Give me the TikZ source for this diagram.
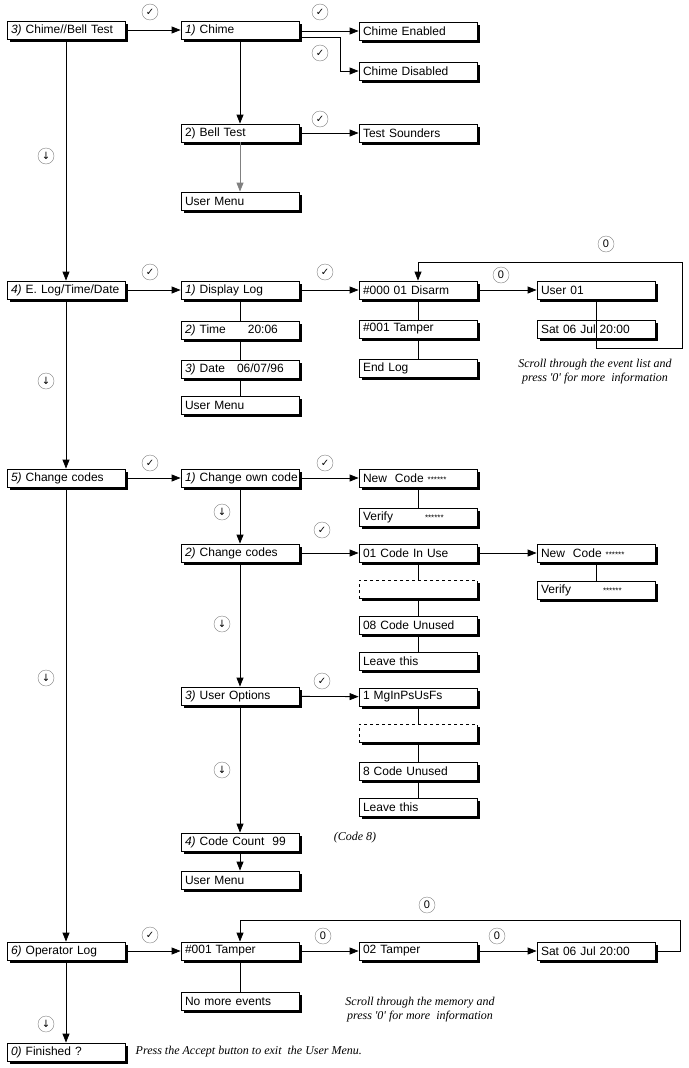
\documentclass[tikz,border=0pt]{standalone}
\usepackage{fontspec}
\setmainfont{Liberation Sans}
\newfontfamily\notefont{Liberation Serif}
\newfontfamily\symfont{DejaVu Sans}
\usetikzlibrary{arrows.meta,shadows}

\tikzset{
  box/.style={draw, fill=white, minimum width=118pt, minimum height=18pt, text width=110pt,
    align=left, inner xsep=4pt, inner ysep=2pt, font=\fontsize{12}{13}\selectfont,
    drop shadow={shadow xshift=2.5pt, shadow yshift=-2.5pt, fill=black, opacity=1}},
  dbox/.style={box, dashed},
  key/.style={circle, draw=gray, thin, inner sep=0pt, minimum size=16pt, font=\symfont\fontsize{10}{10}\selectfont},
  note/.style={font=\notefont\itshape\fontsize{12}{14}\selectfont, align=center},
  go/.style={-{Triangle[length=9pt,width=7pt]}},
}

\begin{document}
\begin{tikzpicture}[x=1pt, y=-1pt, thick]
    \useasboundingbox (0,0) rectangle (688,1068);

    % Chime / Bell test
    \node[box] (chb) at (66,30) {\textit{3)} Chime//Bell Test};
    \node[box] (chime) at (240,30) {\textit{1)} Chime};
    \node[box] (chen) at (418,31) {Chime Enabled};
    \node[box] (chdis) at (418,71) {Chime Disabled};
    \node[box] (bell) at (240,133) {2) Bell Test};
    \node[box] (sound) at (418,133) {Test Sounders};
    \node[box] (um1) at (240,201) {User Menu};

    % Event log
    \node[box] (elog) at (66,290) {\textit{4)} E. Log/Time/Date};
    \node[box] (disp) at (240,290) {\textit{1)} Display Log};
    \node[box] (time) at (240,330) {\textit{2)} Time \hspace{14pt} 20:06};
    \node[box] (date) at (240,369) {\textit{3)} Date \hspace{4pt} 06/07/96};
    \node[box] (um2) at (240,405) {User Menu};
    \node[box] (ev0) at (418,290) {\#000 01 Disarm};
    \node[box] (ev1) at (418,329) {\#001 Tamper};
    \node[box] (evend) at (418,368) {End Log};
    \node[box] (user) at (596,290) {User 01};
    \node[box] (stamp) at (596,329) {Sat 06 Jul 20:00};
    \node[note] (scroll1) at (595,372) {Scroll through the event list and\\press '0' for more \ information};

    % Change codes
    \node[box] (chc) at (66,478) {\textit{5)} Change codes};
    \node[box] (own) at (240,478) {\mbox{\textit{1)} Change own code}};
    \node[box] (newa) at (418,478) {New \ Code {\footnotesize ******}};
    \node[box] (vera) at (418,517) {Verify \hspace{28pt}{\footnotesize ******}};
    \node[box] (codes) at (240,553) {\textit{2)} Change codes};
    \node[box] (inuse) at (418,553) {01 Code In Use};
    \node[dbox] (gapa) at (418,589) {};
    \node[box] (unused) at (418,625) {08 Code Unused};
    \node[box] (leavea) at (418,661) {Leave this};
    \node[box] (newb) at (596,553) {New \ Code {\footnotesize ******}};
    \node[box] (verb) at (596,590) {Verify \hspace{28pt}{\footnotesize ******}};
    \node[box] (opts) at (240,696) {\textit{3)} User Options};
    \node[box] (flags) at (418,697) {1 MgInPsUsFs};
    \node[dbox] (gapb) at (418,733) {};
    \node[box] (unusedb) at (418,771) {8 Code Unused};
    \node[box] (leaveb) at (418,807) {Leave this};
    \node[box] (count) at (240,842) {\textit{4)} Code Count \ 99};
    \node[box] (um3) at (240,880) {User Menu};
    \node[note] (c8) at (355,838) {(Code 8)};

    % Operator log
    \node[box] (oplog) at (66,951) {\textit{6)} Operator Log};
    \node[box] (op1) at (240,951) {\#001 Tamper};
    \node[box] (op2) at (418,951) {02 Tamper};
    \node[box] (opstamp) at (596,951) {Sat 06 Jul 20:00};
    \node[box] (nomore) at (240,1001) {No more events};
    \node[note] (scroll2) at (420,1010) {Scroll through the memory and\\press '0' for more \ information};
    \node[box] (fin) at (66,1052) {\textit{0)} Finished ?};
    \node[note, anchor=west] (accept) at (132,1052) {Press the Accept button to exit \ the User Menu.};

    % keys
    \foreach \n/\x/\y in {k1/150/12, k2/320/12, k3/320/53, k4/320/119, k5/150/272, k6/325/272,
        k7/150/463, k8/325/463, k9/322/530, k10/322/681, k11/150/935}
        \node[key] (\n) at (\x,\y) {✓};
    \foreach \n/\x/\y in {d1/46/156, d2/46/381, d3/46/678, d4/46/1024, d5/222/512, d6/222/624, d7/222/770}
        \node[key] (\n) at (\x,\y) {↓};
    \foreach \n/\x/\y in {z1/606/244, z2/501/275, z3/427/905, z4/323/936, z5/497/936}
        \node[key, font=\fontsize{11}{11}\selectfont] (\n) at (\x,\y) {0};

    % main column
    \draw[go] (chb) -- (elog);
    \draw[go] (elog) -- (chc);
    \draw[go] (chc) -- (oplog);
    \draw[go] (oplog) -- (fin);
    \foreach \a/\b in {chb/chime, elog/disp, chc/own, oplog/op1}
        \draw[go] (\a) -- (\b);

    % chime branch
    \draw[go] (chime.east |- chen) -- (chen);
    \coordinate (bend) at (340,37);
    \draw[go] (chime.east |- bend) -- (bend) |- (chdis);
    \draw[go] (chime) -- (bell);
    \draw[go] (bell) -- (sound);
    \draw[go, gray] (bell) -- (um1);

    % event log branch
    \draw (disp) -- (time) (time) -- (date) (date) -- (um2);
    \draw[go] (disp) -- (ev0);
    \draw (ev0) -- (ev1) (ev1) -- (evend);
    \draw[go] (ev0) -- (user);
    \coordinate (loopa) at (682,348);
    \coordinate (loopb) at (682,262);
    \draw[go] (user.south) -- (user.south |- loopa) -- (loopa) -- (loopb) -- (ev0.north |- loopb) -- (ev0.north);

    % change codes branch
    \draw[go] (own) -- (newa);
    \draw (newa) -- (vera);
    \draw[go] (own) -- (codes);
    \draw[go] (codes) -- (inuse);
    \draw (inuse) -- (gapa) (gapa) -- (unused) (unused) -- (leavea);
    \draw[go] (inuse) -- (newb);
    \draw (newb) -- (verb);
    \draw[go] (codes) -- (opts);
    \draw[go] (opts) -- (flags);
    \draw (flags) -- (gapb) (gapb) -- (unusedb) (unusedb) -- (leaveb);
    \draw[go] (opts) -- (count);
    \draw[go] (count) -- (um3);

    % operator log branch
    \draw[go] (op1) -- (op2);
    \draw[go] (op2) -- (opstamp);
    \draw (op1) -- (nomore);
    \coordinate (loopc) at (680,920);
    \draw[go] (opstamp.east) -- (opstamp.east -| loopc) -- (loopc) -- (op1.north |- loopc) -- (op1.north);
\end{tikzpicture}
\end{document}
